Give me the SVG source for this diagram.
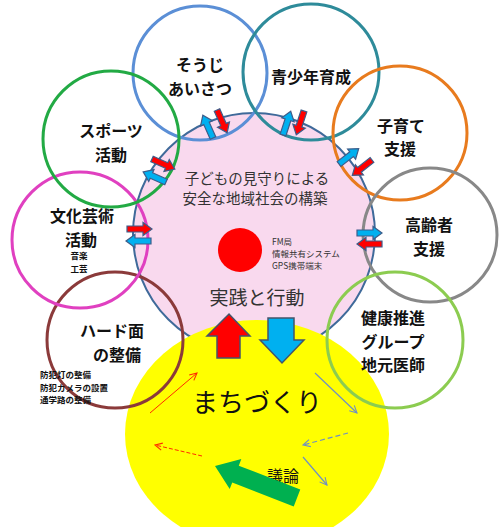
<svg xmlns="http://www.w3.org/2000/svg" width="504" height="527" viewBox="0 0 504 527">
<defs>
<style>
.ring{fill:none;stroke-width:3}
.lbl{font-family:"Noto Sans CJK JP","Noto Sans",sans-serif;font-weight:bold;fill:#111;text-anchor:middle;font-size:16px}
.sm{font-family:"Noto Sans CJK JP","Noto Sans",sans-serif;font-weight:bold;fill:#111;font-size:8.5px}
.ctr{font-family:"Noto Sans CJK JP","Noto Sans",sans-serif;fill:#333;text-anchor:middle}
.pr{fill:#ff0000;stroke:#3d5d8a;stroke-width:1.2}
.pb{fill:#00b0f0;stroke:#3d5d8a;stroke-width:1.2}
.tr{fill:none;stroke:#ff2a00;stroke-width:1}
.tb{fill:none;stroke:#6f8fc4;stroke-width:1.2}
</style>
<path id="sa" d="M0,-3 L16,-3 L16,-6.5 L25,0 L16,6.5 L16,3 L0,3 Z"/>
<marker id="hr" viewBox="0 0 10 10" refX="9" refY="5" markerWidth="9" markerHeight="9" orient="auto" markerUnits="userSpaceOnUse"><path d="M1,1 L9,5 L1,9" fill="none" stroke="#ff2a00" stroke-width="1.2"/></marker>
<marker id="hb" viewBox="0 0 10 10" refX="9" refY="5" markerWidth="9" markerHeight="9" orient="auto" markerUnits="userSpaceOnUse"><path d="M1,1 L9,5 L1,9" fill="none" stroke="#6f8fc4" stroke-width="1.2"/></marker>
</defs>
<rect width="504" height="527" fill="#ffffff"/>

<g id="center">
<circle cx="254" cy="234" r="121" fill="#f9d9ee" stroke="#3f6a9a" stroke-width="2"/>
<text class="ctr" x="257" y="184" font-size="14.5">子どもの見守りによる</text>
<text class="ctr" x="255" y="204" font-size="14.5">安全な地域社会の構築</text>
<circle cx="240" cy="250" r="22" fill="#ff0000"/>
<text class="ctr" x="272" y="245" font-size="8.5" style="text-anchor:start">FM局</text>
<text class="ctr" x="272" y="257" font-size="8.5" style="text-anchor:start">情報共有システム</text>
<text class="ctr" x="272" y="269" font-size="8.5" style="text-anchor:start">GPS携帯端末</text>
<text class="ctr" x="257" y="305" font-size="19">実践と行動</text>
</g>

<g id="machizukuri">
<ellipse cx="257" cy="434" rx="132" ry="114" fill="#ffff00"/>
<text class="ctr" x="257" y="412" font-size="26" style="fill:#111">まちづくり</text>
<text class="ctr" x="283" y="482" font-size="16" style="fill:#111">議論</text>
</g>

<g id="souji">
<circle class="ring" cx="200" cy="73" r="67" stroke="#5b8fd6"/>
<text class="lbl" x="200" y="71">そうじ</text>
<text class="lbl" x="200" y="95">あいさつ</text>
</g>
<g id="seishonen">
<circle class="ring" cx="311" cy="72" r="68" stroke="#2e8b9a"/>
<text class="lbl" x="311" y="83">青少年育成</text>
</g>
<g id="kosodate">
<circle class="ring" cx="400" cy="133" r="67" stroke="#e87b1e"/>
<text class="lbl" x="401" y="132">子育て</text>
<text class="lbl" x="400" y="155">支援</text>
</g>
<g id="koreisha">
<circle class="ring" cx="430" cy="235" r="67" stroke="#888888"/>
<text class="lbl" x="429" y="231">高齢者</text>
<text class="lbl" x="429" y="254.5">支援</text>
</g>
<g id="kenko">
<circle class="ring" cx="395" cy="340" r="68" stroke="#8ccc50"/>
<text class="lbl" x="393" y="324">健康推進</text>
<text class="lbl" x="393" y="347.5">グループ</text>
<text class="lbl" x="393" y="371">地元医師</text>
</g>
<g id="hard">
<circle class="ring" cx="115" cy="340" r="68" stroke="#8b3a3a"/>
<text class="lbl" x="112" y="337">ハード面</text>
<text class="lbl" x="117" y="360.5">の整備</text>
<text class="sm" x="40" y="378">防犯灯の整備</text>
<text class="sm" x="40" y="390.5">防犯カメラの設置</text>
<text class="sm" x="40" y="403">通学路の整備</text>
</g>
<g id="bunka">
<circle class="ring" cx="80" cy="240" r="68" stroke="#e040c0"/>
<text class="lbl" x="82" y="222">文化芸術</text>
<text class="lbl" x="81" y="245.5">活動</text>
<text class="lbl" x="79" y="259" style="font-size:8.5px">音楽</text>
<text class="lbl" x="79" y="271.5" style="font-size:8.5px">工芸</text>
</g>
<g id="sports">
<circle class="ring" cx="111" cy="139" r="68" stroke="#22aa44"/>
<text class="lbl" x="111" y="137">スポーツ</text>
<text class="lbl" x="111" y="160.5">活動</text>
</g>

<g id="connectors">
<use href="#sa" class="pb" transform="translate(213,138) rotate(-114)"/>
<use href="#sa" class="pr" transform="translate(217,110) rotate(66)"/>
<use href="#sa" class="pb" transform="translate(283,135) rotate(-72)"/>
<use href="#sa" class="pr" transform="translate(304,111) rotate(108)"/>
<use href="#sa" class="pr" transform="translate(152,159) rotate(24)"/>
<use href="#sa" class="pb" transform="translate(166,182) rotate(204)"/>
<use href="#sa" class="pr" transform="translate(127,229) rotate(0)"/>
<use href="#sa" class="pb" transform="translate(151,241) rotate(180)"/>
<use href="#sa" class="pb" transform="translate(339,164) rotate(-38)"/>
<use href="#sa" class="pr" transform="translate(372,160) rotate(142)"/>
<use href="#sa" class="pb" transform="translate(357,233) rotate(0)"/>
<use href="#sa" class="pr" transform="translate(382,244) rotate(180)"/>

<path d="M217,358 L217,336 L207,336 L229,314 L250,336 L240,336 L240,358 Z" fill="#ff0000" stroke="#44546a" stroke-width="1.5"/>
<path d="M268,318 L294,318 L294,340 L304,340 L282,363 L260,340 L268,340 Z" fill="#00b0f0" stroke="#44546a" stroke-width="1.5"/>
<path d="M0,-9 L66,-9 L66,-16 L88,0 L66,16 L66,9 L0,9 Z" fill="#00b050" transform="translate(297,498) rotate(201.3)"/>

<line class="tr" x1="150" y1="413" x2="197" y2="373" marker-end="url(#hr)"/>
<line class="tr" x1="202" y1="456" x2="155" y2="445" stroke-dasharray="4,2" marker-end="url(#hr)"/>
<line class="tb" x1="315" y1="373" x2="357" y2="413" marker-end="url(#hb)"/>
<line class="tb" x1="348" y1="433" x2="303" y2="445" stroke-dasharray="5,3" marker-end="url(#hb)"/>
<line class="tb" x1="303" y1="457" x2="327" y2="485" marker-end="url(#hb)"/>
</g>
</svg>
